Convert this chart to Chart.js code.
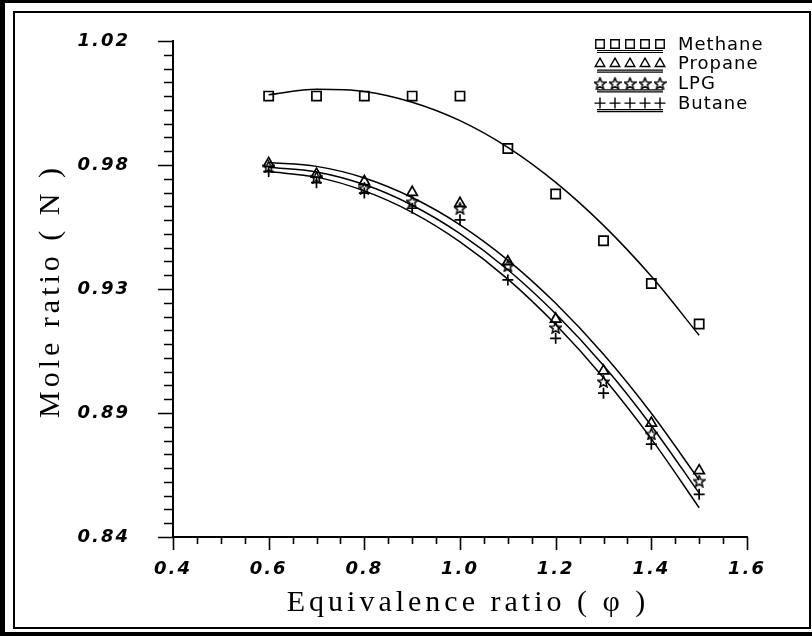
<!DOCTYPE html>
<html>
<head>
<meta charset="utf-8">
<script src="https://cdn.jsdelivr.net/npm/chart.js@4"></script>
<style>
  html, body { margin: 0; padding: 0; background: #fff; }
  #wrap { position: relative; width: 812px; height: 636px; }
  .frame { position: absolute; box-sizing: border-box; border-style: solid; border-color: #000; }
  #outer { left: 0; top: 0; width: 812px; height: 636px; border-width: 3px 0 4px 5px; }
  #inner { left: 13px; top: 11px; width: 798px; height: 618px; border-width: 2px; }
  #Graph { position: absolute; left: 0; top: 0; }
</style>
</head>
<body>
<div id="wrap">
  <div class="frame" id="outer"></div>
  <div class="frame" id="inner"></div>
  <canvas id="Graph" width="812" height="636"></canvas>
</div>
<script>
// equivalence ratio values
const xValues = [0.6, 0.7, 0.8, 0.9, 1.0, 1.1, 1.2, 1.3, 1.4, 1.5];

// measured points
const methane = [1.000, 1.000, 1.000, 1.000, 1.000, 0.981, 0.9645, 0.9475, 0.932, 0.9173];
const propane = [0.9756, 0.9717, 0.9690, 0.9651, 0.9611, 0.9399, 0.9191, 0.9003, 0.8813, 0.8641];
const lpg = [0.9744, 0.9706, 0.9666, 0.9617, 0.9593, 0.9384, 0.9160, 0.8964, 0.8774, 0.8603];
const butane = [0.9726, 0.9686, 0.9648, 0.9593, 0.9551, 0.9333, 0.9121, 0.8922, 0.8737, 0.8555];

// fitted curves
const methaneFit = [1.0005, 1.0025, 1.0017, 0.9978, 0.9911, 0.9814, 0.9687, 0.9531, 0.9346, 0.9132];
const propaneFit = [0.9759, 0.9745, 0.9703, 0.9632, 0.9533, 0.9405, 0.9248, 0.9063, 0.8849, 0.8607];
const lpgFit = [0.9742, 0.9725, 0.9679, 0.9604, 0.9501, 0.9370, 0.9210, 0.9022, 0.8804, 0.8559];
const butaneFit = [0.9726, 0.9706, 0.9656, 0.9578, 0.9471, 0.9336, 0.9171, 0.8978, 0.8756, 0.8506];

const seriesNames = ['Methane', 'Propane', 'LPG', 'Butane'];
const xTickLabels = ['0.4', '0.6', '0.8', '1.0', '1.2', '1.4', '1.6'];
const yTickLabels = ['0.84', '0.89', '0.93', '0.98', '1.02'];

function pairs(ys) {
    return xValues.map((x, i) => ({x: x, y: ys[i]}));
}

// open five-point star marker
function makeStar(size) {
    const c = document.createElement('canvas');
    c.width = size;
    c.height = size;
    const g = c.getContext('2d');
    g.strokeStyle = '#000';
    g.lineWidth = 1.5;
    g.beginPath();
    for (let i = 0; i < 10; i++) {
        const r = i % 2 ? size * 0.2 : size * 0.46;
        const a = -Math.PI / 2 + i * Math.PI / 5;
        const px = size / 2 + r * Math.cos(a);
        const py = size / 2 + 0.5 + r * Math.sin(a);
        if (i === 0) g.moveTo(px, py); else g.lineTo(px, py);
    }
    g.closePath();
    g.stroke();
    return c;
}

const star = makeStar(13);
const markerStyles = ['rect', 'triangle', star, 'cross'];
const markerSizes = [6.5, 6, 6, 5.5];
const legendSizes = [6, 5.5, 6, 5.5];
const seriesData = [methane, propane, lpg, butane];
const fitData = [methaneFit, propaneFit, lpgFit, butaneFit];

const datasets = [];
fitData.forEach((ys) => {
    datasets.push({
        type: 'line',
        data: pairs(ys),
        borderColor: '#000',
        borderWidth: 1.5,
        pointRadius: 0,
        fill: false,
        cubicInterpolationMode: 'monotone'
    });
});
seriesData.forEach((ys, i) => {
    datasets.push({
        type: 'scatter',
        label: seriesNames[i],
        data: pairs(ys),
        pointStyle: markerStyles[i],
        pointRadius: markerSizes[i],
        borderColor: '#000',
        backgroundColor: 'rgba(0,0,0,0)',
        borderWidth: 1.7
    });
});

const tickFont = {family: 'DejaVu Sans', size: 18, style: 'italic', weight: 'bold'};

const extras = {
    id: 'extras',
    beforeDraw(chart) {
        chart.ctx.letterSpacing = '2px';
    },
    afterDraw(chart) {
        const ctx = chart.ctx;
        const xs = chart.scales.x;
        const ys = chart.scales.y;
        ctx.save();
        ctx.letterSpacing = '0px';
        ctx.strokeStyle = '#000';
        ctx.lineWidth = 1.6;
        // tick marks, longer at labelled ticks
        ctx.beginPath();
        xs.ticks.forEach((t, i) => {
            const px = Math.round(xs.getPixelForTick(i)) + 0.5;
            const len = i % 4 === 0 ? 13 : 7;
            ctx.moveTo(px, xs.top);
            ctx.lineTo(px, xs.top + len);
        });
        ys.ticks.forEach((t, i) => {
            const py = Math.round(ys.getPixelForTick(i)) + 0.5;
            const len = i % 9 === 0 ? 15 : 9;
            ctx.moveTo(ys.right, py);
            ctx.lineTo(ys.right - len, py);
        });
        ctx.stroke();

        // axis titles
        ctx.fillStyle = '#000';
        ctx.font = '30px "Liberation Serif"';
        ctx.letterSpacing = '4px';
        ctx.textAlign = 'center';
        ctx.textBaseline = 'middle';
        ctx.fillText('Equivalence ratio ( \u03C6 )', 468, 603);
        ctx.save();
        ctx.translate(51, 291);
        ctx.rotate(-Math.PI / 2);
        ctx.fillText('Mole ratio ( N )', 0, 0);
        ctx.restore();

        // legend: five markers over a double rule, then the name
        ctx.font = '18px "DejaVu Sans"';
        ctx.letterSpacing = '1px';
        ctx.textAlign = 'left';
        seriesNames.forEach((name, i) => {
            const y = 44 + i * 19.7;
            ctx.strokeStyle = '#000';
            ctx.fillStyle = 'rgba(0,0,0,0)';
            ctx.lineWidth = 1.4;
            for (let k = 0; k < 5; k++) {
                Chart.helpers.drawPoint(ctx, {
                    pointStyle: markerStyles[i],
                    radius: legendSizes[i],
                    rotation: 0,
                    borderWidth: 1.4
                }, 600 + k * 15, y);
            }
            ctx.lineWidth = 1.2;
            ctx.beginPath();
            ctx.moveTo(597, y + 6.5);
            ctx.lineTo(663, y + 6.5);
            ctx.moveTo(597, y + 8.5);
            ctx.lineTo(663, y + 8.5);
            ctx.stroke();
            ctx.fillStyle = '#000';
            ctx.fillText(name, 678, y + 1);
        });
        ctx.restore();
        ctx.letterSpacing = '0px';
    }
};

new Chart(document.getElementById('Graph'), {
    data: {datasets: datasets},
    options: {
        responsive: false,
        animation: false,
        layout: {padding: {top: 41, right: 65, left: 0, bottom: 0}},
        plugins: {legend: {display: false}, tooltip: {enabled: false}},
        scales: {
            x: {
                type: 'linear',
                min: 0.4,
                max: 1.6,
                grid: {display: false, drawTicks: false},
                border: {display: true, color: '#000', width: 2},
                ticks: {
                    stepSize: 0.05,
                    autoSkip: false,
                    maxRotation: 0,
                    padding: 22,
                    color: '#000',
                    font: tickFont,
                    callback: (v, i) => (i % 4 === 0 ? xTickLabels[i / 4] : '')
                },
                afterFit: (s) => { s.height = 99; s.paddingLeft = 0; s.paddingRight = 0; }
            },
            y: {
                type: 'linear',
                min: 0.84,
                max: 1.02,
                grid: {display: false, drawTicks: false},
                border: {display: true, color: '#000', width: 2},
                ticks: {
                    stepSize: 0.005,
                    autoSkip: false,
                    padding: 43,
                    color: '#000',
                    font: tickFont,
                    callback: (v, i) => (i % 9 === 0 ? yTickLabels[i / 9] : '')
                },
                afterFit: (s) => { s.width = 173; s.paddingTop = 0; s.paddingBottom = 0; }
            }
        }
    },
    plugins: [extras]
});
</script>
</body>
</html>
